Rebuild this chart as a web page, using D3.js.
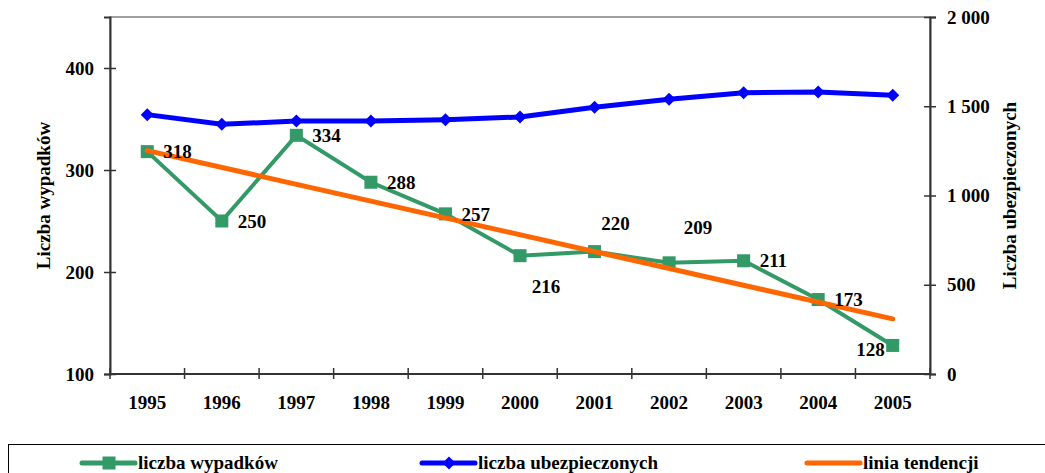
<!DOCTYPE html>
<html>
<head>
<meta charset="utf-8">
<script src="https://d3js.org/d3.v7.min.js"></script>
<style>
  body { margin: 0; background: #fff; }
  text { font-family: "Liberation Serif", "Times New Roman", serif; font-weight: bold; }
</style>
</head>
<body>
<div id="chart"></div>
<script>
// data
const years = ['1995','1996','1997','1998','1999','2000','2001','2002','2003','2004','2005'];
const wypadki = [318, 250, 334, 288, 257, 216, 220, 209, 211, 173, 128];
const ubezpieczeni = [1453, 1399, 1417, 1417, 1425, 1440, 1494, 1539, 1576, 1580, 1561];
const trendYears = ['1995', '2005'];
const trendValues = [319, 154];
const leftTicks = [100, 200, 300, 400];
const rightTicks = [0, 500, 1000, 1500, 2000];
// where each value label sits relative to its point
const labelPos = ['r','r','r','r','r','b','a1','a2','r','r','l'];

const W = 1045, H = 473;
const plot = {left: 110, right: 930, top: 17, bottom: 374};
const green = '#339966', blue = '#0000ff', orange = '#ff6600';

const svg = d3.select('#chart').append('svg')
  .attr('width', W).attr('height', H);

const x = d3.scaleBand().domain(years).range([plot.left, plot.right]);
const cx = d => x(d) + x.bandwidth() / 2;
const yL = d3.scaleLinear().domain([100, 450]).range([plot.bottom, plot.top]);
const yR = d3.scaleLinear().domain([0, 2000]).range([plot.bottom, plot.top]);

// plot frame
svg.append('rect')
  .attr('x', plot.left).attr('y', plot.top)
  .attr('width', plot.right - plot.left).attr('height', plot.bottom - plot.top)
  .attr('fill', 'none').attr('stroke', '#808080').attr('stroke-width', 1.5);

// left axis
const gL = svg.append('g').attr('transform', `translate(${plot.left},0)`)
  .call(d3.axisLeft(yL).tickValues(leftTicks).tickSize(6).tickPadding(10));
gL.selectAll('.tick line').attr('x1', 6);
// right axis
const fmtR = d => d3.format(',')(d).replace(',', ' ');
const gR = svg.append('g').attr('transform', `translate(${plot.right},0)`)
  .call(d3.axisRight(yR).tickValues(rightTicks).tickSize(6).tickPadding(11).tickFormat(fmtR));
gR.selectAll('.tick line').attr('x1', -6);
// bottom axis: labels at centres, ticks on category boundaries
const gB = svg.append('g').attr('transform', `translate(0,${plot.bottom})`)
  .call(d3.axisBottom(x).tickSize(0).tickPadding(22));
const xb = d3.scaleLinear().domain([0, years.length]).range([plot.left, plot.right]);
gB.selectAll('.bound').data(d3.range(years.length + 1)).enter().append('line')
  .attr('x1', d => xb(d)).attr('x2', d => xb(d))
  .attr('y1', -6).attr('y2', 5);

[gL, gR, gB].forEach(g => {
  g.select('.domain').attr('stroke', '#333').attr('stroke-width', 2);
  g.selectAll('line').attr('stroke', '#333').attr('stroke-width', 1.5);
  g.selectAll('text').attr('font-size', 19).attr('fill', '#000')
    .attr('font-family', '"Liberation Serif", "Times New Roman", serif')
    .attr('font-weight', 'bold');
});
gB.select('.domain').attr('d', `M${plot.left},0H${plot.right}`);

// axis titles
svg.append('text').attr('transform', `translate(50,${(plot.top + plot.bottom) / 2}) rotate(-90)`)
  .attr('text-anchor', 'middle').attr('font-size', 19).text('Liczba wypadków');
svg.append('text').attr('transform', `translate(1016,${(plot.top + plot.bottom) / 2}) rotate(-90)`)
  .attr('text-anchor', 'middle').attr('font-size', 19).text('Liczba ubezpieczonych');

// series: wypadki
svg.append('path').datum(wypadki)
  .attr('d', d3.line().x((d, i) => cx(years[i])).y(d => yL(d)))
  .attr('fill', 'none').attr('stroke', green).attr('stroke-width', 4);
svg.selectAll('.sq').data(wypadki).enter().append('rect')
  .attr('x', (d, i) => cx(years[i]) - 6.5).attr('y', d => yL(d) - 6.5)
  .attr('width', 13).attr('height', 13).attr('fill', green);

// series: ubezpieczeni
svg.append('path').datum(ubezpieczeni)
  .attr('d', d3.line().x((d, i) => cx(years[i])).y(d => yR(d)))
  .attr('fill', 'none').attr('stroke', blue).attr('stroke-width', 5);
svg.selectAll('.dm').data(ubezpieczeni).enter().append('path')
  .attr('transform', (d, i) => `translate(${cx(years[i])},${yR(d)})`)
  .attr('d', 'M0,-6.5L6.5,0L0,6.5L-6.5,0Z').attr('fill', blue);

// trend line
svg.append('path').datum(trendValues)
  .attr('d', d3.line().x((d, i) => cx(trendYears[i])).y(d => yL(d)))
  .attr('fill', 'none').attr('stroke', orange).attr('stroke-width', 5)
  .attr('stroke-linecap', 'round');

// value labels
const off = {r: [16, 0, 'start'], b: [26, 31, 'middle'], a1: [21, -28, 'middle'],
             a2: [29, -35, 'middle'], l: [-8, 4, 'end']};
svg.selectAll('.lbl').data(wypadki).enter().append('text')
  .attr('x', (d, i) => cx(years[i]) + off[labelPos[i]][0])
  .attr('y', (d, i) => yL(d) + off[labelPos[i]][1])
  .attr('dy', '0.35em')
  .attr('text-anchor', (d, i) => off[labelPos[i]][2])
  .attr('font-size', 19).text(d => d);

// legend
svg.append('rect').attr('x', 8.5).attr('y', 444.5).attr('width', 1100).attr('height', 60)
  .attr('fill', 'none').attr('stroke', '#000').attr('stroke-width', 1);
const legend = [
  {name: 'liczba wypadków', color: green, mark: 'sq', x0: 82},
  {name: 'liczba ubezpieczonych', color: blue, mark: 'dm', x0: 422},
  {name: 'linia tendencji', color: orange, mark: null, x0: 807}
];
const ly = 463;
legend.forEach(l => {
  svg.append('line').attr('x1', l.x0).attr('x2', l.x0 + 53).attr('y1', ly).attr('y2', ly)
    .attr('stroke', l.color).attr('stroke-width', 5).attr('stroke-linecap', 'round');
  const mx = l.x0 + 27;
  if (l.mark === 'sq') svg.append('rect').attr('x', mx - 6.5).attr('y', ly - 6.5)
    .attr('width', 13).attr('height', 13).attr('fill', l.color);
  if (l.mark === 'dm') svg.append('path').attr('transform', `translate(${mx},${ly})`)
    .attr('d', 'M0,-6.5L6.5,0L0,6.5L-6.5,0Z').attr('fill', l.color);
  svg.append('text').attr('x', l.x0 + 56).attr('y', 469).attr('font-size', 19).text(l.name);
});
</script>
</body>
</html>
